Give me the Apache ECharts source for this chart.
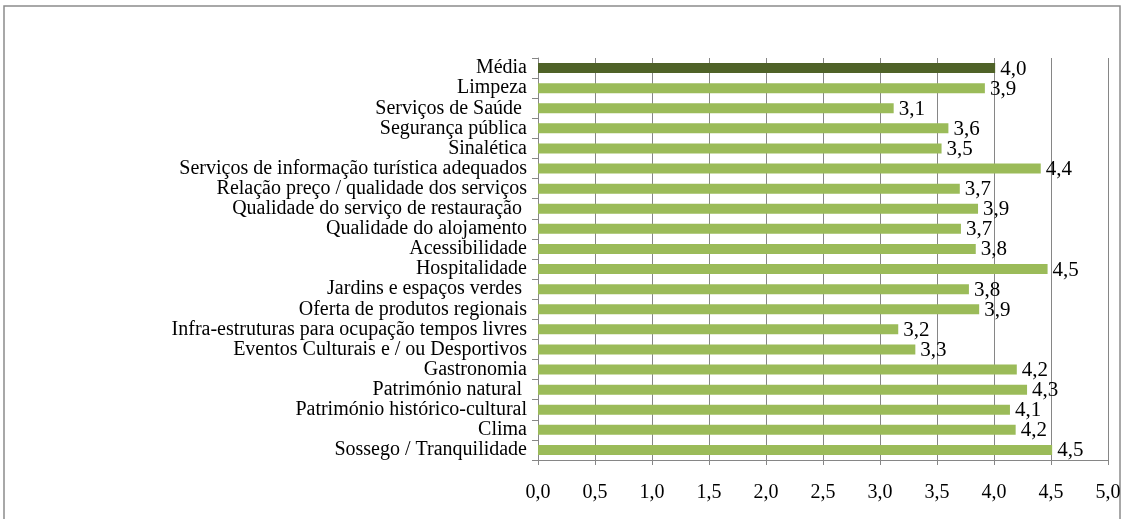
<!DOCTYPE html>
<html lang="pt">
<head>
    <meta charset="UTF-8">
    <title>Avaliação</title>
    <script type="text/javascript" src="https://cdn.jsdelivr.net/npm/echarts@6/dist/echarts.min.js"></script>
    <style>
        html, body { margin: 0; padding: 0; background: #fff; }
        #main { width: 1125px; height: 519px; }
    </style>
</head>
<body>
<div id="main"></div>
<script>
    // categorias, de cima para baixo
    var categorias = [
        'Média',
        'Limpeza',
        'Serviços de Saúde ',
        'Segurança pública',
        'Sinalética',
        'Serviços de informação turística adequados',
        'Relação preço / qualidade dos serviços',
        'Qualidade do serviço de restauração ',
        'Qualidade do alojamento',
        'Acessibilidade',
        'Hospitalidade',
        'Jardins e espaços verdes ',
        'Oferta de produtos regionais',
        'Infra-estruturas para ocupação tempos livres',
        'Eventos Culturais e / ou Desportivos',
        'Gastronomia',
        'Património natural ',
        'Património histórico-cultural',
        'Clima',
        'Sossego / Tranquilidade'
    ];
    var valores = [4.01, 3.92, 3.12, 3.60, 3.54, 4.41, 3.70, 3.86, 3.71, 3.84,
                   4.47, 3.78, 3.87, 3.16, 3.31, 4.20, 4.29, 4.14, 4.19, 4.51];
    var escala = [0, 5, 0.5];  // min, max, intervalo

    var fonte = "'Liberation Serif', 'Times New Roman', serif";
    var fmt = function (v) { return Number(v).toFixed(1).replace('.', ','); };

    var chart = echarts.init(document.getElementById('main'));
    var option = {
        animation: false,
        textStyle: { fontFamily: fonte },
        grid: { left: 538, right: 17, top: 58, bottom: 59 },
        // moldura exterior
        graphic: [{
            type: 'rect',
            shape: { x: 4, y: 6, width: 1116, height: 600 },
            style: { fill: 'none', stroke: '#8c8c8c', lineWidth: 1.5 },
            silent: true
        }],
        xAxis: {
            type: 'value',
            min: escala[0],
            max: escala[1],
            interval: escala[2],
            axisLine: { show: true, lineStyle: { color: '#868686' } },
            axisTick: { show: true, length: 5, lineStyle: { color: '#868686' } },
            splitLine: { show: true, lineStyle: { color: '#868686', width: 1 } },
            axisLabel: { color: '#000', fontSize: 20, fontFamily: fonte, margin: 23, formatter: fmt }
        },
        yAxis: {
            type: 'category',
            inverse: true,
            data: categorias,
            axisLine: { show: true, lineStyle: { color: '#868686' } },
            axisTick: { show: true, length: 6, lineStyle: { color: '#868686' } },
            axisLabel: { color: '#000', fontSize: 20, fontFamily: fonte, margin: 11, interval: 0 }
        },
        series: [{
            type: 'bar',
            data: valores,
            barWidth: 10,
            itemStyle: {
                color: function (p) { return p.dataIndex === 0 ? '#4f6228' : '#9bbb59'; }
            },
            label: {
                show: true,
                position: 'right',
                distance: 5,
                offset: [0, 1],
                color: '#000',
                fontSize: 21,
                fontFamily: fonte,
                formatter: function (p) { return fmt(p.value); }
            }
        }]
    };
    chart.setOption(option);
</script>
</body>
</html>
